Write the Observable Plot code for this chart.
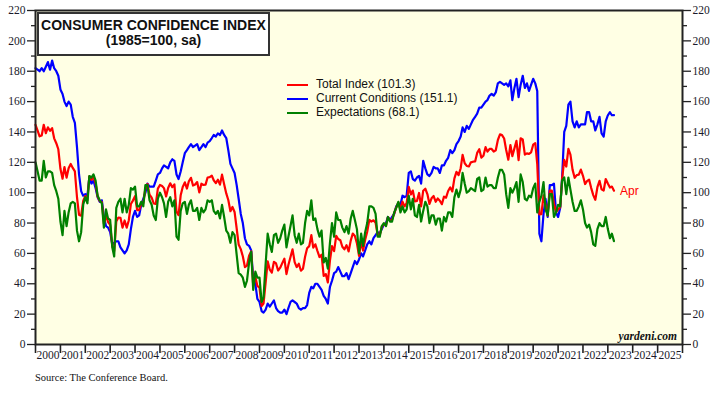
<!DOCTYPE html>
<html>
<head>
<meta charset="utf-8">
<script src="https://cdn.jsdelivr.net/npm/d3@7"></script>
<script src="https://cdn.jsdelivr.net/npm/@observablehq/plot@0.6"></script>
<style>
  body { margin: 0; background: #fff; }
  #wrap { position: relative; width: 728px; height: 394px; overflow: hidden; }
  .ov { position: absolute; white-space: nowrap; }
  #titlebox { left: 37px; top: 12px; width: 229px; height: 36px; border: 2px solid #333; background: #fff;
    font-family: "Liberation Sans", Arial, sans-serif; font-weight: bold; font-size: 14px; line-height: 15px;
    text-align: center; padding-top: 4px; color: #111; }
  .leg { font-family: "Liberation Sans", Arial, sans-serif; font-size: 12px; color: #111; }
  .legline { position: absolute; width: 21px; height: 2px; }
  #yard { font-family: "Liberation Serif", serif; font-weight: bold; font-style: italic; font-size: 11.5px; color: #111; }
  #src { font-family: "Liberation Serif", serif; font-size: 10.5px; color: #111; }
</style>
</head>
<body>
<div id="wrap"></div>
<script>
// Monthly data, Jan 2000 .. Apr 2023
const startYear = 2000;
const totalIndex = [
144.7,140.8,137.1,137.7,144.7,139.2,143.0,140.8,142.5,135.8,132.6,128.6,
115.7,109.2,116.9,109.9,116.1,118.9,116.3,114.0,97.0,85.3,84.9,94.6,
97.8,95.0,110.7,108.5,110.3,106.3,97.4,94.5,93.7,79.6,84.9,80.7,
78.8,64.8,61.4,81.0,83.6,83.5,77.0,81.7,77.0,81.7,92.5,94.8,
97.7,88.5,88.5,93.0,93.1,102.8,105.7,98.7,96.7,92.9,92.6,102.7,
105.1,104.4,103.0,97.5,103.1,106.2,103.6,105.5,87.5,85.2,98.3,103.8,
106.8,102.7,107.5,109.8,104.7,105.4,107.0,100.2,105.9,105.1,105.3,110.0,
110.2,111.2,108.2,106.3,108.5,105.3,111.9,105.6,99.5,95.2,87.8,90.6,
87.3,76.4,65.9,62.8,58.1,51.0,51.9,58.5,61.4,38.8,44.7,38.6,
37.4,25.3,26.9,40.8,54.8,49.3,47.4,54.5,53.4,48.7,50.6,53.6,
56.5,46.4,52.3,57.7,62.7,54.3,51.0,53.2,48.6,49.9,57.8,63.4,
64.8,72.0,63.8,66.0,61.7,57.6,59.2,45.2,46.4,40.9,55.2,64.8,
61.5,71.6,69.5,68.7,64.4,62.7,65.4,61.3,68.4,73.1,71.5,66.7,
58.4,68.0,61.9,69.0,74.3,82.1,81.0,81.8,80.2,72.4,72.0,77.5,
79.4,78.3,83.9,81.7,82.2,86.4,90.3,93.4,89.0,94.1,91.0,93.1,
103.8,98.8,101.4,94.3,94.6,99.8,91.0,101.3,102.6,99.1,92.6,96.3,
97.8,94.0,96.2,94.7,92.4,97.4,96.7,101.1,103.5,100.8,109.4,113.7,
111.6,116.1,124.9,119.4,117.6,117.3,120.0,120.4,120.6,126.2,128.6,123.1,
124.3,130.0,127.0,128.8,128.8,127.1,127.9,134.7,138.4,137.9,135.7,128.1,
121.7,131.4,124.1,129.2,134.1,121.5,135.8,135.1,125.1,125.9,125.5,126.5,
131.6,132.6,118.8,85.7,85.9,98.3,91.7,84.8,101.3,101.4,92.9,87.1,
88.9,90.4,109.0,121.7,117.2,128.9,125.1,115.2,109.8,111.6,111.9,115.2,
111.1,105.7,107.6,108.6,103.2,98.4,95.3,103.6,107.8,102.2,101.4,109.0,
106.0,103.4,104.0,101.3];

const currentConditions = [
182,181,180,182,180,183,186,181,187,182,180,177,
168,165,160,157,160,158,150,146,130,112,101,98,
99,98,110,106,108,103,97,94,95,84,78,77,
74,66,67,68,68,64,62,60,62,66,76,84,
88,84,85,92,96,100,106,104,104,104,108,112,
113,116,118,117,116,120,122,121,112,109,114,120,
126,128,130,132,130,131,132,128,130,132,130,133,
134,136,138,137,139,138,141,138,136,128,119,116,
113,105,96,86,80,70,66,65,62,43,40,30,
28,22,21,23,27,25,27,29,24,22,21,21,
23,20,24,28,29,28,27,24,23,24,24,26,
34,38,37,40,40,38,36,32,30,27,38,42,
47,48,51,48,45,45,47,43,47,51,55,53,
56,60,58,62,66,68,66,70,72,74,73,76,
79,80,84,82,84,86,91,93,92,98,97,98,
113,114,109,108,110,111,106,121,116,112,111,113,
117,116,116,113,118,118,121,123,128,126,128,132,
134,137,143,140,144,142,145,148,150,152,156,156,
158,160,161,164,165,164,166,172,173,172,171,172,
170,174,161,169,175,163,171,177,169,172,167,171,
175,172,167,73,68,86,96,84,105,105,106,87,
84,90,110,140,144,158,160,147,143,147,143,145,
145,145,153,153,147,147,141,145,150,139,137,147,
151,153,151,151.1];

const expectations = [
120,114,108,108,121,110,114,114,113,105,101,96,
81,72,88,78,87,93,94,93,75,68,74,92,
97,93,111,110,112,108,98,95,93,77,89,83,
82,64,58,90,94,96,87,96,87,92,103,102,
104,91,91,94,91,105,105,95,92,85,82,96,
100,97,93,84,94,97,91,95,71,69,88,93,
94,86,92,95,88,88,90,82,90,87,89,95,
94,95,88,86,88,83,92,84,75,73,67,74,
72,59,47,46,44,38,42,54,61,36,48,44,
44,28,31,53,73,66,61,72,73,67,70,75,
79,64,71,78,85,72,67,73,66,67,80,88,
85,95,82,83,76,71,75,54,57,50,67,80,
71,87,82,82,77,74,78,73,83,88,82,76,
60,73,65,74,80,91,91,90,86,71,71,78,
80,78,84,81,81,87,90,94,87,91,87,89,
98,89,96,85,84,92,81,88,94,91,80,85,
85,79,83,83,75,84,81,87,87,84,97,102,
97,102,113,106,100,101,103,102,101,109,110,101,
102,110,104,105,105,103,103,110,115,115,112,99,
90,103,100,103,107,94,112,107,96,95,98,97,
103,106,87,94,98,107,89,85,99,99,84,87,
92,91,108,110,99,110,102,94,88,88,91,95,
89,80,77,79,74,66,65,76,80,78,78,84,
76,70,73,68.1];

const yearLabels = ["2000","2001","2002","2003","2004","2005","2006","2007","2008","2009",
  "2010","2011","2012","2013","2014","2015","2016","2017","2018","2019",
  "2020","2021","2022","2023","2024","2025"];
const seriesNames = ["Total Index (101.3)", "Current Conditions (151.1)", "Expectations (68.1)"];
const seriesColors = ["#ff0000", "#0000ff", "#008000"];
const yMajor = [0,20,40,60,80,100,120,140,160,180,200,220];
const yMinor = [10,30,50,70,90,110,130,150,170,190,210];
const lastLabel = "Apr";

const toDate = (i) => new Date(Date.UTC(startYear, i, 1));
const mk = (arr) => arr.map((v, i) => ({date: toDate(i), value: v}));
const tot = mk(totalIndex), cur = mk(currentConditions), exp = mk(expectations);

const yearStarts = yearLabels.map(y => new Date(Date.UTC(+y, 0, 1))).concat([new Date(Date.UTC(2026,0,1))]);
const midYears = yearLabels.map(y => new Date(Date.UTC(+y, 6, 2)));

const axisStyle = {stroke: "#222", strokeWidth: 1.3};
const chart = Plot.plot({
  width: 728, height: 394,
  marginTop: 10, marginBottom: 50, marginLeft: 35, marginRight: 46,
  x: {type: "utc", domain: [new Date(Date.UTC(2000,0,1)), new Date(Date.UTC(2026,0,1))]},
  y: {domain: [0, 220]},
  style: {background: "transparent", fontFamily: "'Liberation Serif', 'Times New Roman', serif", fontSize: "11.5px", color: "#1a1a2a", overflow: "visible"},
  marks: [
    Plot.frame({fill: "#ffffe4", stroke: null}),
    Plot.line(cur, {x: "date", y: "value", stroke: seriesColors[1], strokeWidth: 2.2, curve: "linear"}),
    Plot.line(tot, {x: "date", y: "value", stroke: seriesColors[0], strokeWidth: 2.2}),
    Plot.line(exp, {x: "date", y: "value", stroke: seriesColors[2], strokeWidth: 2.2}),
    Plot.text([tot[tot.length - 1]], {x: "date", y: "value", text: () => lastLabel, fill: seriesColors[0],
      textAnchor: "start", dx: 6, fontFamily: "'Liberation Sans', Arial, sans-serif", fontSize: 12}),
    Plot.axisY(yMajor, {anchor: "left", tickSize: 8, tickPadding: 2, label: null, ...axisStyle}),
    Plot.axisY(yMinor, {anchor: "left", tickSize: 4, tickFormat: () => "", label: null, ...axisStyle}),
    Plot.axisY(yMajor, {anchor: "right", tickSize: 8, tickPadding: 2, label: null, ...axisStyle}),
    Plot.axisY(yMinor, {anchor: "right", tickSize: 4, tickFormat: () => "", label: null, ...axisStyle}),
    Plot.axisX(yearStarts, {tickSize: 9, tickFormat: () => "", label: null, stroke: "#222", strokeWidth: 1.6}),
    Plot.axisX(midYears, {tickSize: 0, tickPadding: 6, tickFormat: (d) => yearLabels[d.getUTCFullYear() - 2000], label: null}),
    Plot.frame({stroke: "#222", strokeWidth: 2})
  ]
});

const wrap = document.getElementById("wrap");
wrap.appendChild(chart);

function addDiv(id, cls, html, css) {
  const d = document.createElement("div");
  if (id) d.id = id;
  d.className = "ov " + (cls || "");
  d.innerHTML = html;
  Object.assign(d.style, css);
  wrap.appendChild(d);
  return d;
}
addDiv("titlebox", "", "CONSUMER CONFIDENCE INDEX<br>(1985=100, sa)", {});
const legY = [85, 99, 113];
seriesNames.forEach((name, i) => {
  const ln = document.createElement("div");
  ln.className = "legline";
  Object.assign(ln.style, {left: "287px", top: (legY[i] - 1) + "px", background: seriesColors[i]});
  wrap.appendChild(ln);
  addDiv(null, "leg", name, {left: "316px", top: (legY[i] - 8) + "px"});
});
addDiv("yard", "", "yardeni.com", {right: "51px", top: "330px"});
addDiv("src", "", "Source: The Conference Board.", {left: "35px", top: "372px"});
</script>
</body>
</html>
